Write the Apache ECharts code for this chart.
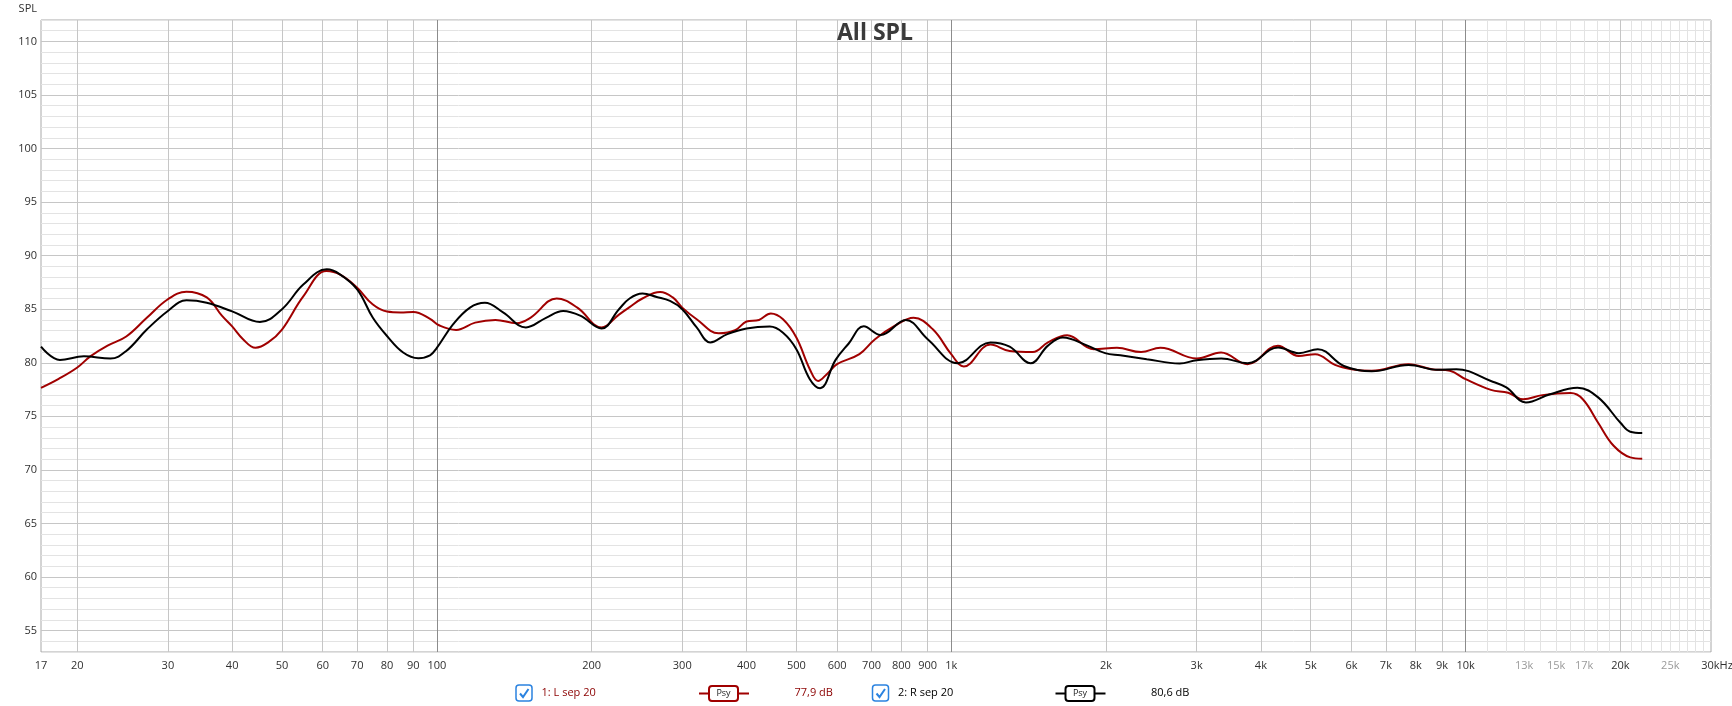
<!DOCTYPE html>
<html>
<head>
<meta charset="utf-8">
<title>All SPL</title>
<script src="https://cdn.jsdelivr.net/npm/echarts@6/dist/echarts.min.js"></script>
<style>
  html, body { margin: 0; padding: 0; background: #fff; }
  #chartSpl { width: 1732px; height: 706px; }
</style>
</head>
<body>
<div id="chartSpl"></div>
<script>
// 1: L sep 20 (red)
var freqL = [17, 18.4, 20, 21.2, 22.9, 24.9, 27.3, 30, 32.6, 35.7, 38.2, 40, 42, 44.4, 47, 50, 55, 61, 65, 70,
  75, 80, 85, 90, 97, 101, 109, 118.7, 130, 142.8, 152, 171, 187.6, 209, 226, 237, 251, 271.7, 287.5, 300,
  320, 353, 380, 400, 423, 446, 471, 500, 531, 551, 573, 600, 663, 711, 776, 845, 922, 1000, 1058, 1192,
  1299, 1441, 1542, 1680, 1893, 2100, 2340, 2550, 3000, 3346, 3767, 4316, 4735, 5100, 5573, 6000, 6567, 7747, 8600, 9325,
  10000, 11200, 12100, 12940, 14100, 16000, 16900, 18100, 19400, 20900, 22050];
var splL = [77.66, 78.5, 79.56, 80.6, 81.6, 82.45, 84.2, 85.93, 86.64, 86.1, 84.4, 83.4, 82.2, 81.4, 81.9, 83.1, 86.2, 88.56, 88.2, 87.0,
  85.46, 84.78, 84.7, 84.75, 84.1, 83.5, 83.07, 83.75, 84.0, 83.7, 84.2, 86.0, 85.15, 83.3, 84.5, 85.2, 86.0, 86.6, 86.1, 85.15,
  84.06, 82.76, 83.04, 83.85, 84.0, 84.6, 84.06, 82.36, 79.4, 78.3, 78.94, 79.87, 80.8, 82.2, 83.44, 84.2, 83.1, 80.8, 79.66, 81.7,
  81.1, 81.0, 81.9, 82.57, 81.27, 81.4, 81.0, 81.4, 80.4, 80.96, 79.87, 81.6, 80.64, 80.8, 79.8, 79.4, 79.25, 79.87, 79.4, 79.25,
  78.47, 77.47, 77.2, 76.6, 76.98, 77.17, 76.6, 74.4, 72.25, 71.17, 71.05];

// 2: R sep 20 (black)
var freqR = [17, 18.5, 20.6, 23.2, 24.9, 27.3, 30, 32.6, 35.7, 40, 45.3, 50, 55, 61.1, 64.8, 70, 75.1, 80, 86, 92,
  97, 100, 107.6, 116, 124, 134.5, 149, 163, 176, 190, 209, 226, 237, 251, 267.6, 284, 300, 320, 340, 367,
  400, 444, 471, 500, 531, 556, 596, 632, 676, 729, 816, 900, 1030, 1192, 1299, 1427, 1542, 1648, 1840, 1992,
  2132, 2400, 2780, 3000, 3350, 3770, 4320, 4740, 5160, 5800, 6570, 7750, 8800, 9600, 11200, 12000, 13100, 14600, 16500, 18100,
  20000, 20900, 22050];
var splR = [81.5, 80.27, 80.6, 80.4, 81.1, 83.1, 84.84, 85.83, 85.6, 84.8, 83.8, 85.0, 87.3, 88.72, 88.26, 86.86, 84.2, 82.5, 80.96, 80.43,
  80.7, 81.4, 83.6, 85.15, 85.6, 84.7, 83.3, 84.2, 84.84, 84.4, 83.2, 85.0, 86.0, 86.46, 86.14, 85.77, 85.0, 83.3, 81.9, 82.67,
  83.2, 83.38, 82.8, 81.27, 78.47, 77.63, 80.27, 81.8, 83.4, 82.6, 84.0, 82.2, 79.96, 81.9, 81.5, 79.96, 81.6, 82.36, 81.6, 80.9,
  80.7, 80.34, 79.93, 80.24, 80.4, 79.96, 81.43, 80.9, 81.27, 79.7, 79.2, 79.8, 79.34, 79.4, 78.3, 77.7, 76.3, 77.07, 77.66, 76.77,
  74.4, 73.56, 73.44];

// x tick labels
var xLabelFreqs = [17, 20, 30, 40, 50, 60, 70, 80, 90, 100, 200, 300, 400, 500, 600, 700, 800, 900,
  1000, 2000, 3000, 4000, 5000, 6000, 7000, 8000, 9000, 10000, 13000, 15000, 17000, 20000, 25000, 30000];
var xLabelTexts = ['17', '20', '30', '40', '50', '60', '70', '80', '90', '100', '200', '300', '400', '500', '600', '700', '800', '900',
  '1k', '2k', '3k', '4k', '5k', '6k', '7k', '8k', '9k', '10k', '13k', '15k', '17k', '20k', '25k', '30kHz'];
var xFaintLabels = ['13k', '15k', '17k', '25k'];

// vertical grid lines
var xGridFreqs = [20, 30, 40, 50, 60, 70, 80, 90, 100, 200, 300, 400, 500, 600, 700, 800, 900,
  1000, 2000, 3000, 4000, 5000, 6000, 7000, 8000, 9000, 10000,
  11000, 12000, 13000, 14000, 15000, 16000, 17000, 18000, 19000, 20000,
  21000, 22000, 23000, 24000, 25000, 26000, 27000, 28000, 29000];

var legendNames = ['1: L sep 20', '2: R sep 20'];
var legendLevels = ['77,9 dB', '80,6 dB'];

var lineColors = ['#a00000', '#000000'];
var textColors = ['#8b0000', '#000000'];
var font = '"Open Sans", "Noto Sans", sans-serif';

var gridColors = xGridFreqs.map(function (f) {
  if (f === 100 || f === 1000 || f === 10000) return '#8c8c8c';
  if (f > 10000 && f !== 20000) return '#e3e3e3';
  return '#c6c6c6';
});

function pairs(fs, vs) {
  return fs.map(function (f, i) { return [f, vs[i]]; });
}

var graphics = [];
var legendX = [516, 872.5];
legendX.forEach(function (x0, i) {
  graphics.push({ type: 'rect', shape: { x: x0, y: 685, width: 16, height: 16, r: 3 },
    style: { fill: '#fff', stroke: '#2b83e0', lineWidth: 1.5 } });
  graphics.push({ type: 'polyline', shape: { points: [[x0 + 4, 693.5], [x0 + 7, 697], [x0 + 12.5, 689]] },
    style: { stroke: '#2b83e0', lineWidth: 2, fill: null } });
  graphics.push({ type: 'text', x: x0 + 25.5, y: 693,
    style: { text: legendNames[i], fill: textColors[i], font: '11px ' + font, verticalAlign: 'middle' } });
  graphics.push({ type: 'line', shape: { x1: x0 + 183, y1: 693.5, x2: x0 + 233, y2: 693.5 },
    style: { stroke: lineColors[i], lineWidth: 2 } });
  graphics.push({ type: 'rect', shape: { x: x0 + 193, y: 686, width: 29, height: 15, r: 3 },
    style: { fill: '#fff', stroke: lineColors[i], lineWidth: 2 } });
  graphics.push({ type: 'text', x: x0 + 207.5, y: 693.5,
    style: { text: 'Psy', fill: '#222', font: '9px ' + font, align: 'center', verticalAlign: 'middle' } });
  graphics.push({ type: 'text', x: x0 + 278.5, y: 693,
    style: { text: legendLevels[i], fill: textColors[i], font: '11px ' + font, verticalAlign: 'middle' } });
});

var myChart = echarts.init(document.getElementById('chartSpl'));
var option = {
  animation: false,
  backgroundColor: '#fff',
  title: {
    text: 'All SPL',
    left: 837,
    top: 22,
    padding: 0,
    textStyle: { fontFamily: font, fontSize: 23, fontWeight: 'bold', color: '#3a3a3a' }
  },
  grid: {
    left: 41, right: 21, top: 20, bottom: 54,
    containLabel: false,
    outerBoundsMode: 'none',
    show: true, borderColor: '#a8a8a8', borderWidth: 1, backgroundColor: 'transparent'
  },
  xAxis: {
    type: 'log',
    logBase: 10,
    min: 17,
    max: 30000,
    axisLine: { show: false },
    axisTick: { show: false, customValues: xGridFreqs },
    splitLine: { show: true, lineStyle: { color: gridColors, width: 1 } },
    minorSplitLine: { show: false },
    axisLabel: {
      customValues: xLabelFreqs,
      margin: 8,
      fontFamily: font,
      fontSize: 11,
      color: '#303030',
      formatter: function (v) {
        var best = 0, bd = Infinity;
        for (var i = 0; i < xLabelFreqs.length; i++) {
          var d = Math.abs(Math.log(v / xLabelFreqs[i]));
          if (d < bd) { bd = d; best = i; }
        }
        var t = xLabelTexts[best];
        if (t === '30kHz') return '{pad|}{n|' + t + '}';
        if (xFaintLabels.indexOf(t) >= 0) return '{f|' + t + '}';
        return t;
      },
      rich: {
        pad: { width: 12 },
        n: { fontFamily: font, fontSize: 11, color: '#303030' },
        f: { fontFamily: font, fontSize: 11, color: '#9a9a9a' }
      }
    }
  },
  yAxis: {
    type: 'value',
    min: 53,
    max: 112,
    interval: 1,
    name: 'SPL',
    nameLocation: 'end',
    nameGap: 6,
    nameTextStyle: { fontFamily: font, fontSize: 11, color: '#303030', align: 'right', padding: [0, 4, 0, 0] },
    axisLine: { show: false },
    axisTick: { show: false },
    splitLine: { show: true, lineStyle: { color: ['#e3e3e3', '#e3e3e3', '#c6c6c6', '#e3e3e3', '#e3e3e3'], width: 1 } },
    axisLabel: {
      interval: 0,
      margin: 4,
      fontFamily: font,
      fontSize: 11,
      color: '#303030',
      formatter: function (v) { return v % 5 === 0 ? String(v) : ''; }
    }
  },
  series: [
    {
      name: legendNames[0],
      type: 'line',
      data: pairs(freqL, splL),
      smooth: 0.4,
      showSymbol: false,
      lineStyle: { color: lineColors[0], width: 2 },
      itemStyle: { color: lineColors[0] }
    },
    {
      name: legendNames[1],
      type: 'line',
      data: pairs(freqR, splR),
      smooth: 0.4,
      showSymbol: false,
      lineStyle: { color: lineColors[1], width: 2 },
      itemStyle: { color: lineColors[1] }
    }
  ],
  graphic: graphics
};
myChart.setOption(option);
</script>
</body>
</html>
